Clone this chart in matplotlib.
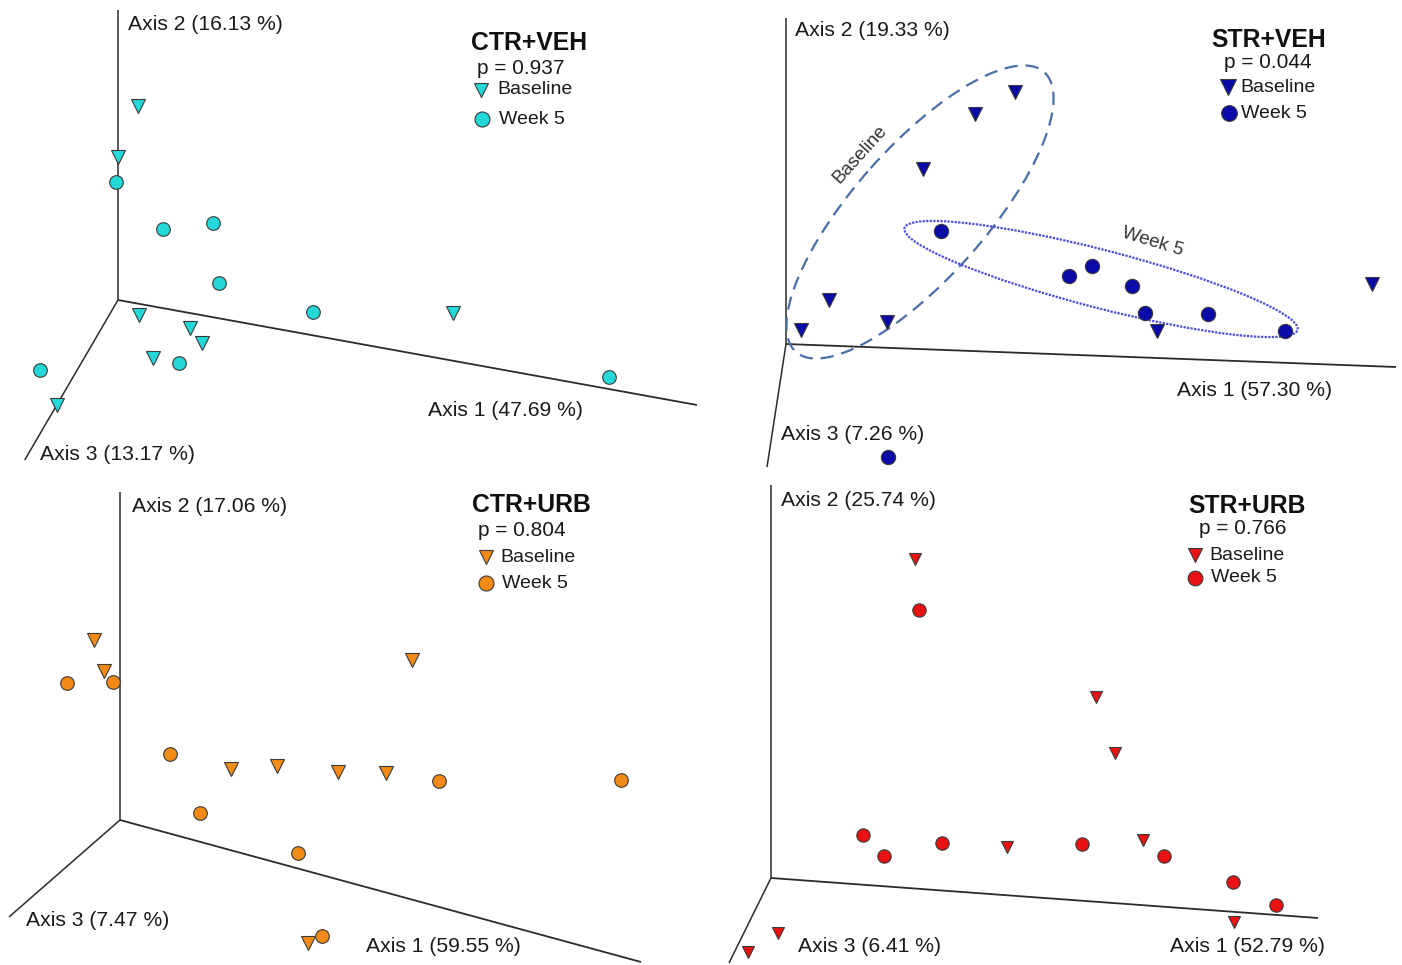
import matplotlib
matplotlib.use("Agg")
import matplotlib.pyplot as plt
from matplotlib.patches import Ellipse

plt.rcParams['font.family'] = ['Liberation Sans', 'DejaVu Sans']

# ---------------- data (projected PCoA positions) ----
titles = ["CTR+VEH", "STR+VEH", "CTR+URB", "STR+URB"]
p_values = ["p = 0.937", "p = 0.044", "p = 0.804", "p = 0.766"]
axis1_labels = ["Axis 1 (47.69 %)", "Axis 1 (57.30 %)", "Axis 1 (59.55 %)", "Axis 1 (52.79 %)"]
axis2_labels = ["Axis 2 (16.13 %)", "Axis 2 (19.33 %)", "Axis 2 (17.06 %)", "Axis 2 (25.74 %)"]
axis3_labels = ["Axis 3 (13.17 %)", "Axis 3 (7.26 %)", "Axis 3 (7.47 %)", "Axis 3 (6.41 %)"]
group_names = ["Baseline", "Week 5"]
colors = ["#22d8d8", "#0a0aa8", "#f38a16", "#e81212"]

# CTR+VEH
ctrveh_base_x = [137.7, 117.5, 139, 189.7, 201.8, 152.5, 57.4, 453]
ctrveh_base_y = [106, 157, 315, 328, 343, 358, 405, 313]
ctrveh_wk5_x = [116, 162.8, 212.6, 219, 313, 179, 39.5, 609]
ctrveh_wk5_y = [182, 229, 223, 283, 312, 363, 370, 377]
# STR+VEH
strveh_base_x = [1015, 975, 923, 829, 801, 887.4, 1156.5, 1372]
strveh_base_y = [92, 114, 169, 300, 330, 322, 331, 284]
strveh_wk5_x = [941, 1092, 1068.6, 1132, 1145, 1208, 1285, 888]
strveh_wk5_y = [231, 266, 276, 286, 313, 314, 331, 457]
# CTR+URB
ctrurb_base_x = [94, 104, 411.7, 231, 276.7, 337.7, 385.7, 308]
ctrurb_base_y = [640, 671, 660, 769, 766, 772, 773, 943]
ctrurb_wk5_x = [67, 113, 170, 200, 297.8, 438.6, 621, 322]
ctrurb_wk5_y = [683, 682, 754, 813, 853, 781, 780, 936]
# STR+URB
strurb_base_x = [915, 1095.5, 1114.8, 1007, 1143, 1233.6, 777.6, 748]
strurb_base_y = [559, 697, 753, 847, 840, 922, 933, 952]
strurb_wk5_x = [918.8, 862.8, 883.9, 942, 1082, 1164, 1232.7, 1276]
strurb_wk5_y = [610, 835, 856, 843, 844, 856, 882, 905]

base_x = [ctrveh_base_x, strveh_base_x, ctrurb_base_x, strurb_base_x]
base_y = [ctrveh_base_y, strveh_base_y, ctrurb_base_y, strurb_base_y]
wk5_x = [ctrveh_wk5_x, strveh_wk5_x, ctrurb_wk5_x, strurb_wk5_x]
wk5_y = [ctrveh_wk5_y, strveh_wk5_y, ctrurb_wk5_y, strurb_wk5_y]

# ---------------- layout (pixel geometry of each panel) ---------------------
# origin, axis-2 top, axis-1 end, axis-3 end
origins = [(118, 300), (786, 344), (120, 820), (771, 878)]
ax2_tops = [(118, 10), (786, 18), (120, 492), (771, 485)]
ax1_ends = [(697, 405), (1396, 367), (641, 962), (1318, 918)]
ax3_ends = [(24.7, 460), (767, 467), (9, 917), (729, 963)]
ax2_lab_pos = [(128, 24), (795, 31), (132, 507), (781, 500)]
ax1_lab_pos = [(428, 410), (1177, 390), (366, 946), (1170, 946)]
ax3_lab_pos = [(40, 455), (781, 434), (26, 920), (798, 946)]
title_pos = [(529, 43), (1269, 40), (531, 505), (1247, 506)]
p_pos = [(477, 68), (1224, 63), (478, 530), (1199, 529)]
leg_tri = [(481, 90), (1228, 87), (486, 557), (1195, 555)]
leg_cir = [(482, 119), (1229, 113), (486, 583), (1195, 578)]
leg_txt_x = [(497, 499), (1240, 1241), (500, 502), (1209, 1211)]
tri_size = [9.5, 10.0, 9.5, 9.0]
cir_size = [9.8, 10.3, 9.8, 9.6]

fig = plt.figure(figsize=(14.02, 9.65), dpi=100)
ax = fig.add_axes([0, 0, 1, 1])
ax.set_xlim(0, 1402)
ax.set_ylim(965, 0)
ax.axis("off")

edge = "#3a3a3a"
axcol = "#2b2b2b"
for i in range(4):
    o = origins[i]
    for end, lw in ((ax2_tops[i], 1.1), (ax1_ends[i], 1.3), (ax3_ends[i], 1.1)):
        ax.plot([o[0], end[0]], [o[1], end[1]], color=axcol, lw=lw,
                solid_capstyle="butt", zorder=1)
    ax.text(*ax2_lab_pos[i], axis2_labels[i], fontsize=15.2, ha="left", va="center", color="#1a1a1a")
    ax.text(*ax1_lab_pos[i], axis1_labels[i], fontsize=15.2, ha="left", va="center", color="#1a1a1a")
    ax.text(*ax3_lab_pos[i], axis3_labels[i], fontsize=15.2, ha="left", va="center", color="#1a1a1a")
    ax.text(*title_pos[i], titles[i], fontsize=17.8, fontweight="bold", ha="center", va="center", color="#111111")
    ax.text(*p_pos[i], p_values[i], fontsize=15.0, ha="left", va="center", color="#1a1a1a")

    ax.plot(base_x[i], base_y[i], linestyle="none", marker="v", ms=tri_size[i],
            mfc=colors[i], mec=edge, mew=0.8, zorder=3)
    ax.plot(wk5_x[i], wk5_y[i], linestyle="none", marker="o", ms=cir_size[i],
            mfc=colors[i], mec=edge, mew=0.8, zorder=3)

    # legend
    ax.plot(*leg_tri[i], marker="v", ms=tri_size[i] + 1, mfc=colors[i], mec=edge, mew=0.8)
    ax.plot(*leg_cir[i], marker="o", ms=cir_size[i] + 1, mfc=colors[i], mec=edge, mew=0.8)
    ax.text(leg_txt_x[i][0], leg_tri[i][1], group_names[0], fontsize=14.0, ha="left", va="center", color="#1a1a1a")
    ax.text(leg_txt_x[i][1], leg_cir[i][1], group_names[1], fontsize=14.0, ha="left", va="center", color="#1a1a1a")

# group ellipses in STR+VEH
ax.add_patch(Ellipse((920, 212), 374, 132, angle=-48.4, fill=False,
                     ec="#4a6ea6", lw=1.6, ls=(0, (6, 3.5)), zorder=2))
ax.add_patch(Ellipse((1101, 279), 406, 58, angle=14.5, fill=False,
                     ec="#4a4ae0", lw=1.6, ls=(0, (1, 0.6)), zorder=2))
ax.text(860, 154, group_names[0], fontsize=13.5, rotation=48, ha="center", va="center", color="#333333")
ax.text(1153, 242, group_names[1], fontsize=13.5, rotation=-17, ha="center", va="center", color="#333333")

fig.savefig("out.png", dpi=100)
